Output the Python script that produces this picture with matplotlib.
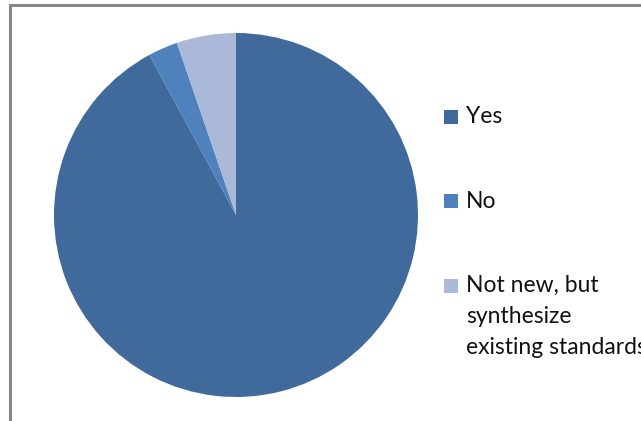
import matplotlib.pyplot as plt
from matplotlib.patches import Rectangle

# survey answers
labels = ['Yes', 'No', 'Not new, but\nsynthesize\nexisting standards']
counts = [35, 1, 2]
colors = ['#40699c', '#4f81bd', '#aab9d7']

W, H = 641, 421
fig = plt.figure(figsize=(W / 100, H / 100), dpi=100)
fig.patch.set_facecolor('white')

# chart border (runs off the right and bottom edge)
fig.add_artist(Rectangle((10 / W, -0.05), 1.1, 1 - 5 / H + 0.05,
                         transform=fig.transFigure, fill=False,
                         edgecolor='#868686', linewidth=2.2))

# pie axes: centre (236, 215), radius 182 px
cx, cy, r = 236, 215, 182
ax = fig.add_axes([(cx - r) / W, (H - cy - r) / H, 2 * r / W, 2 * r / H])
ax.pie(counts, colors=colors, startangle=90, counterclock=False,
       radius=1, wedgeprops=dict(linewidth=0))
ax.set_xlim(-1, 1)
ax.set_ylim(-1, 1)
ax.set_aspect('equal')
ax.axis('off')

# legend drawn by hand, like the Excel one
legend_y = [116.5, 201, 286]
for lab, col, y in zip(labels, colors, legend_y):
    fig.add_artist(Rectangle((444 / W, (H - y - 7) / H), 14 / W, 14 / H,
                             transform=fig.transFigure, facecolor=col,
                             edgecolor='none'))
    if '\n' in lab:
        fig.text(466 / W, (H - y + 11) / H, lab, fontsize=16.5, family='Lato',
                 va='top', ha='left', color='#111111', linespacing=1.6)
    else:
        fig.text(466 / W, (H - y) / H, lab, fontsize=16.5, family='Lato',
                 va='center', ha='left', color='#111111')

fig.savefig('out.png', dpi=100)
